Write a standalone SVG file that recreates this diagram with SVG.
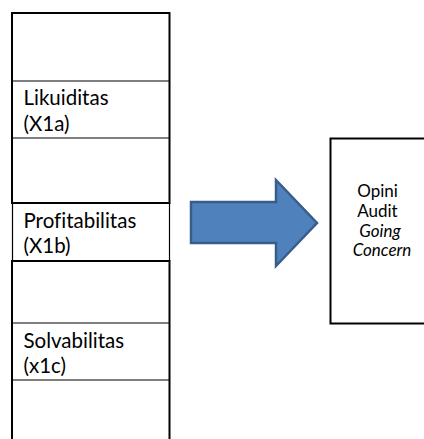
<svg xmlns="http://www.w3.org/2000/svg" width="424" height="439" viewBox="0 0 424 439">
  <style>
    .frame { fill: none; stroke: #000; stroke-width: 2; }
    .rule { stroke: #000; stroke-width: 1.2; }
    text { font-family: Lato, "Open Sans", sans-serif; font-variant-ligatures: none; fill: #000; }
    .label { font-size: 20.5px; }
    .out { font-size: 17px; text-anchor: middle; }
    .arrow { fill: #4F81BD; stroke: #385D8A; stroke-width: 2.5; stroke-linejoin: miter; }
  </style>
  <rect width="424" height="439" fill="#fff"/>

  <!-- left column: variables -->
  <g id="column-top">
    <rect class="frame" x="12" y="13" width="157.5" height="190"/>
    <line class="rule" x1="12" y1="81" x2="169.5" y2="81"/>
    <line class="rule" x1="12" y1="138" x2="169.5" y2="138"/>
  </g>
  <g id="likuiditas">
    <text class="label" x="23.5" y="104.5">Likuiditas</text>
    <text class="label" x="23.5" y="130.5">(X1a)</text>
  </g>
  <g id="profitabilitas">
    <line class="rule" x1="12.5" y1="203" x2="12.5" y2="261"/>
    <line class="rule" x1="169.5" y1="203" x2="169.5" y2="261"/>
    <text class="label" x="23.5" y="227.5">Profitabilitas</text>
    <text class="label" x="23.5" y="253">(X1b)</text>
  </g>
  <g id="column-bottom">
    <rect class="frame" x="12" y="261" width="157.5" height="190"/>
    <line class="rule" x1="12" y1="323" x2="169.5" y2="323"/>
    <line class="rule" x1="12" y1="380" x2="169.5" y2="380"/>
  </g>
  <g id="solvabilitas">
    <text class="label" x="23.5" y="347.5">Solvabilitas</text>
    <text class="label" x="23.5" y="373">(x1c)</text>
  </g>

  <!-- block arrow -->
  <g id="connectors">
    <polygon class="arrow" points="191,202 276,202 276,180 317,223 276,266 276,243 191,243"/>
  </g>

  <!-- outcome box -->
  <g id="opini-audit">
    <rect class="frame" x="330.5" y="138.5" width="100" height="185"/>
    <text class="out" x="377.5" y="196.5">Opini</text>
    <text class="out" x="377.5" y="217">Audit</text>
    <text class="out" x="380" y="236.5" font-style="italic">Going</text>
    <text class="out" x="382" y="256" font-style="italic">Concern</text>
  </g>
</svg>
